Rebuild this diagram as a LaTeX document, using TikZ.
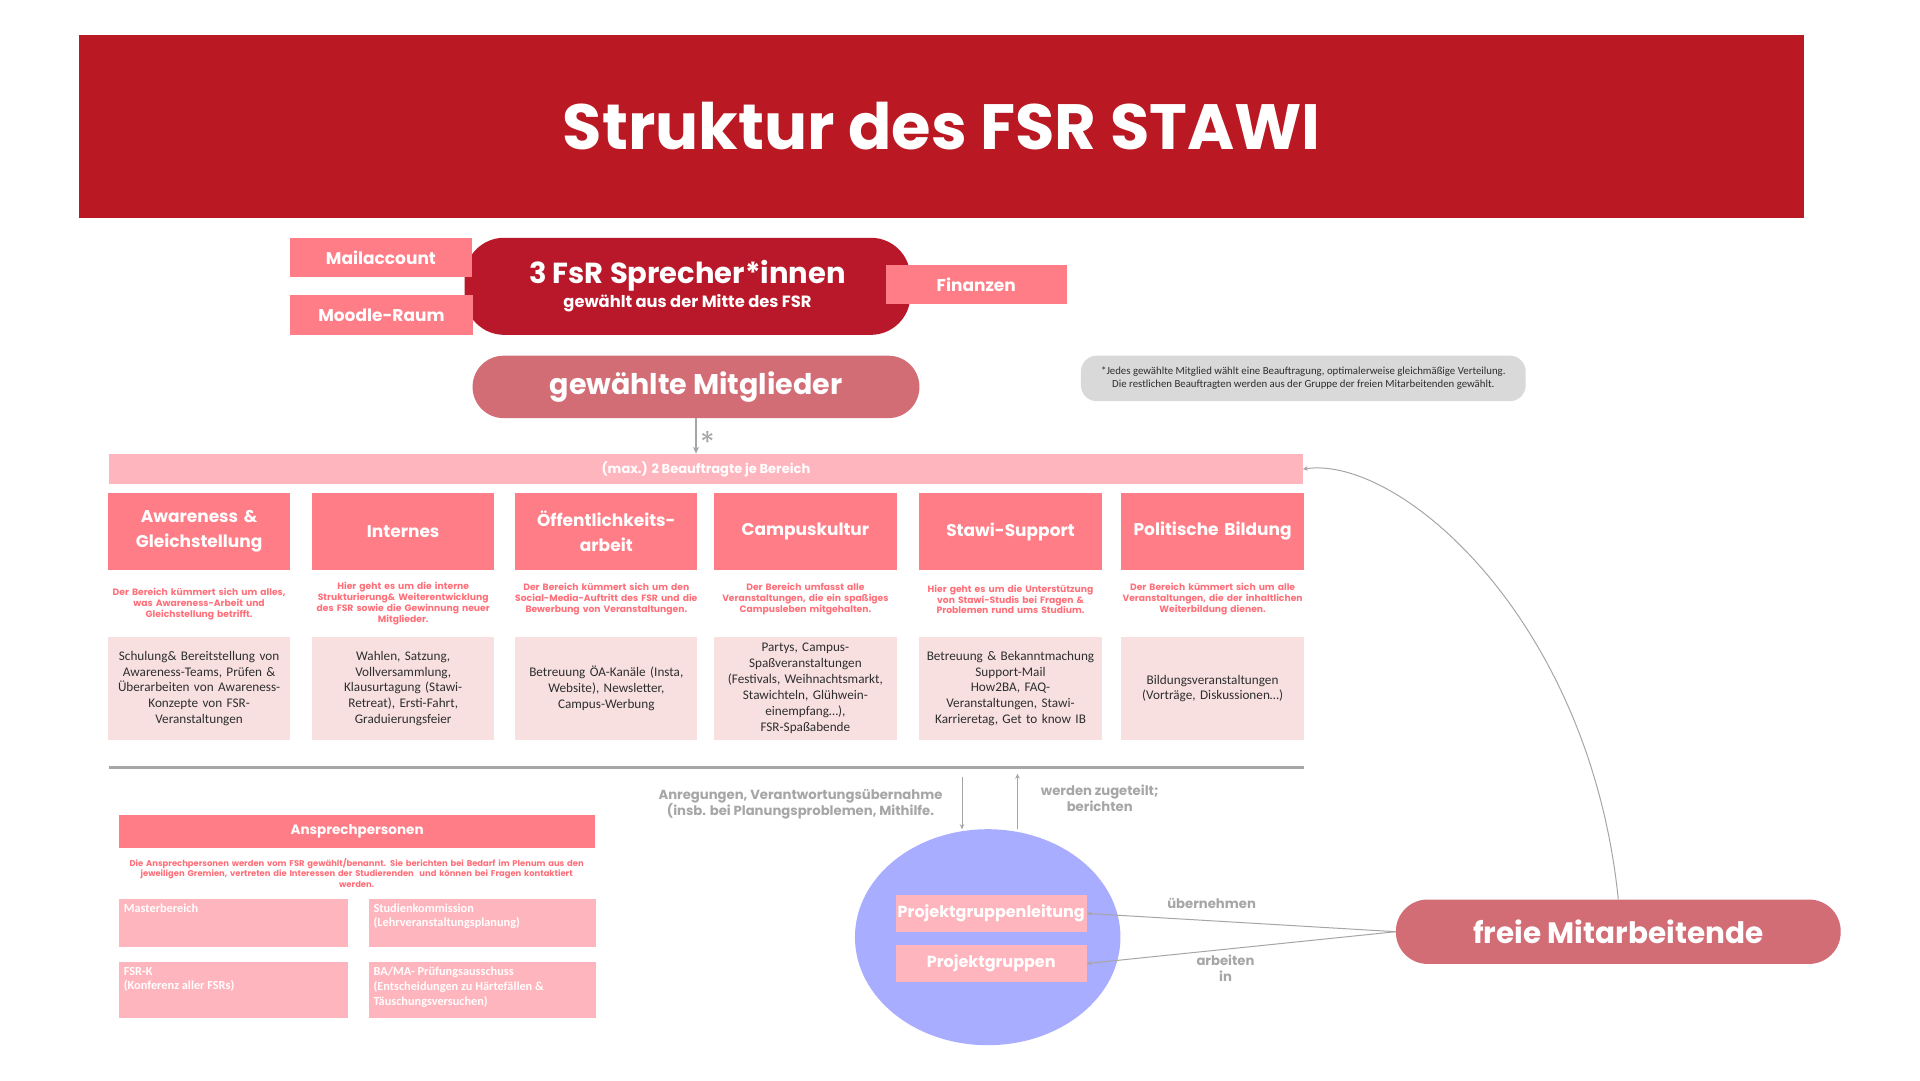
\documentclass[tikz,border=0pt]{standalone}
\usepackage{fontspec}
\setmainfont{Carlito}
\newfontfamily\hf{Poppins}
\usetikzlibrary{shapes.geometric,arrows.meta,calc}
\definecolor{titlered}{HTML}{BA1823}
\definecolor{darkred}{HTML}{B9182A}
\definecolor{salmon}{HTML}{FF7D86}
\definecolor{lightpink}{HTML}{FFB5BD}
\definecolor{rose}{HTML}{D36D75}
\definecolor{contentbg}{HTML}{F8E0E1}
\definecolor{graytxt}{HTML}{A6A6A6}
\definecolor{notegray}{HTML}{D9D9D9}
\definecolor{periwinkle}{HTML}{A9ADFF}
\definecolor{desctxt}{HTML}{FF6F79}
\definecolor{bodytxt}{HTML}{2E2E2E}
\tikzset{
  base/.style={inner sep=0pt, outer sep=0pt, align=center},
  titleband/.style={base, fill=titlered, text=white, font=\hf\bfseries\fontsize{64}{68}\selectfont},
  sidebox/.style={base, fill=salmon, text=white, minimum width=181.3, minimum height=39.6, font=\hf\bfseries\fontsize{17}{20}\selectfont},
  pill/.style={base, fill=rose, text=white, rounded corners=31, font=\hf\bfseries\fontsize{28.5}{32}\selectfont},
  cathead/.style={base, fill=salmon, text=white, minimum width=182.3, minimum height=76.3, text width=178, font=\hf\bfseries\fontsize{17}{25}\selectfont},
  catdesc/.style={base, text=desctxt, text width=190, font=\hf\bfseries\fontsize{9.2}{10.9}\selectfont},
  content/.style={base, fill=contentbg, text=bodytxt, minimum width=182.3, minimum height=103, text width=178, font=\fontsize{13.2}{15.9}\selectfont},
  graylabel/.style={base, text=graytxt, font=\hf\bfseries\fontsize{13.2}{16}\selectfont},
  smallbox/.style={base, fill=lightpink, minimum width=228.9},
  smalltext/.style={base, align=left, text=white, font=\bfseries\fontsize{12.3}{14.8}\selectfont},
  pgbox/.style={base, fill=lightpink, text=white, minimum width=191.2, minimum height=36.7, font=\hf\bfseries\fontsize{16}{18}\selectfont},
  conn/.style={draw=graytxt, line width=1.5pt, -{Stealth[length=7pt,width=6pt]}},
  thinconn/.style={draw=graytxt, line width=1pt, -{Stealth[length=5pt,width=4.5pt]}},
}
\begin{document}
\begin{tikzpicture}[x=1pt,y=1pt]
\useasboundingbox (0,0) rectangle (1920,-1080);
\fill[white] (0,0) rectangle (1920,-1080);

% title
\node[titleband, minimum width=1725, minimum height=183.3] (title) at (941.7,-126.3) {Struktur des FSR STAWI};

% Sprecher
\node[base, fill=darkred, text=white, rounded corners=39.6, minimum width=445.8, minimum height=97.1,
      font=\hf\bfseries\fontsize{16.3}{16}\selectfont] (spr) at (687.5,-286.3)
      {{\fontsize{29}{32}\selectfont 3 FsR Sprecher*innen}\\[2pt]gewählt aus der Mitte des FSR};
\node[sidebox] (mail) at (380.9,-257.6) {Mailaccount};
\node[sidebox, minimum width=182.3] (moodle) at (381.4,-315.0) {Moodle-Raum};
\node[sidebox] (fin) at (976.3,-284.3) {Finanzen};

% gewählte Mitglieder
\node[pill, minimum width=446.8, minimum height=62.4] (mitg) at (696.0,-386.9) {gewählte Mitglieder};

% note
\node[base, fill=notegray, rounded corners=16, minimum width=444.8, minimum height=45.6, text=bodytxt,
      font=\fontsize{10.8}{13}\selectfont] (note) at (1303.3,-378.4)
      {*Jedes gewählte Mitglied wählt eine Beauftragung, optimalerweise gleichmäßige Verteilung.\\Die restlichen Beauftragten werden aus der Gruppe der freien Mitarbeitenden gewählt.};

% band
\node[base, fill=lightpink, text=white, minimum width=1193.8, minimum height=30.7,
      font=\hf\bfseries\fontsize{13}{14}\selectfont] (band) at (705.9,-469.1) {(max.) 2 Beauftragte je Bereich};
\draw[conn] (mitg.south) -- (mitg.south |- band.north);
\node[base, anchor=base west, text=graytxt, font=\hf\fontsize{30}{30}\selectfont] (star) at (700,-453) {*};

% categories
\node[cathead] (h1) at (199.1,-531.5) {Awareness \&\\Gleichstellung};
\node[cathead] (h2) at (403.2,-531.5) {Internes};
\node[cathead] (h3) at (606.3,-531.5) {Öffentlichkeits-\\arbeit};
\node[cathead] (h4) at (805.4,-531.5) {Campuskultur};
\node[cathead] (h5) at (1010.5,-531.5) {Stawi-Support};
\node[cathead] (h6) at (1212.6,-531.5) {Politische Bildung};

\node[catdesc] (d1) at (199.1,-604.3) {Der Bereich kümmert sich um alles,\\was Awareness-Arbeit und\\Gleichstellung betrifft.};
\node[catdesc] (d2) at (403.2,-603.3) {Hier geht es um die interne\\Strukturierung\& Weiterentwicklung\\des FSR sowie die Gewinnung neuer\\Mitglieder.};
\node[catdesc] (d3) at (606.3,-599.4) {Der Bereich kümmert sich um den\\Social-Media-Auftritt des FSR und die\\Bewerbung von Veranstaltungen.};
\node[catdesc] (d4) at (805.4,-599.4) {Der Bereich umfasst alle\\Veranstaltungen, die ein spaßiges\\Campusleben mitgehalten.};
\node[catdesc] (d5) at (1010.5,-599.4) {Hier geht es um die Unterstützung\\von Stawi-Studis bei Fragen \&\\Problemen rund ums Studium.};
\node[catdesc] (d6) at (1212.6,-599.4) {Der Bereich kümmert sich um alle\\Veranstaltungen, die der inhaltlichen\\Weiterbildung dienen.};

\node[content] (c1) at (199.1,-688.5) {Schulung\& Bereitstellung von\\Awareness-Teams, Prüfen \&\\Überarbeiten von Awareness-\\Konzepte von FSR-\\Veranstaltungen};
\node[content] (c2) at (403.2,-688.5) {Wahlen, Satzung,\\Vollversammlung,\\Klausurtagung (Stawi-\\Retreat), Ersti-Fahrt,\\Graduierungsfeier};
\node[content] (c3) at (606.3,-688.5) {Betreuung ÖA-Kanäle (Insta,\\Website), Newsletter,\\Campus-Werbung};
\node[content] (c4) at (805.4,-688.5) {Partys, Campus-\\Spaßveranstaltungen\\(Festivals, Weihnachtsmarkt,\\Stawichteln, Glühwein-\\einempfang…),\\FSR-Spaßabende};
\node[content] (c5) at (1010.5,-688.5) {Betreuung \& Bekanntmachung\\Support-Mail\\How2BA, FAQ-\\Veranstaltungen, Stawi-\\Karrieretag, Get to know IB};
\node[content] (c6) at (1212.6,-688.5) {Bildungsveranstaltungen\\(Vorträge, Diskussionen…)};

% separator
\draw[graytxt, line width=3.2pt] (109,-767.8) -- (1303.8,-767.8);

% Ansprechpersonen
\node[base, fill=salmon, text=white, minimum width=476.5, minimum height=32.7,
      font=\hf\bfseries\fontsize{13.5}{16}\selectfont] (ansp) at (357.1,-831.7) {Ansprechpersonen};
\node[base, text=desctxt, text width=476, font=\hf\bfseries\fontsize{8.4}{10.4}\selectfont] (anspd) at (356.7,-872.8)
  {Die Ansprechpersonen werden vom FSR gewählt/benannt. Sie berichten bei Bedarf im Plenum aus den\\jeweiligen Gremien, vertreten die Interessen der Studierenden\ \ und können bei Fragen kontaktiert\\werden.};
\node[smallbox, minimum height=48.5] (m1) at (233.3,-922.8) {};
\node[smallbox, minimum width=227.9, minimum height=48.5] (m2) at (482.5,-922.8) {};
\node[smallbox, minimum height=56.5] (m3) at (233.3,-990.2) {};
\node[smallbox, minimum width=227.9, minimum height=56.5] (m4) at (482.5,-990.2) {};
\node[smalltext, anchor=north west] (t1) at ($(m1.north west)+(5,-5)$) {Masterbereich};
\node[smalltext, anchor=north west] (t2) at ($(m2.north west)+(5,-5)$) {Studienkommission\\(Lehrveranstaltungsplanung)};
\node[smalltext, anchor=north west] (t3) at ($(m3.north west)+(5,-5)$) {FSR-K\\(Konferenz aller FSRs)};
\node[smalltext, anchor=north west] (t4) at ($(m4.north west)+(5,-5)$) {BA/MA- Prüfungsausschuss\\(Entscheidungen zu Härtefällen \&\\Täuschungsversuchen)};

% Projektgruppen
\node[base, ellipse, fill=periwinkle, minimum width=265.5, minimum height=216] (ell) at (987.7,-937.2) {};
\node[pgbox, minimum height=37.6] (pgl) at (991.2,-913.4) {Projektgruppenleitung};
\node[pgbox] (pg) at (991.2,-963.5) {Projektgruppen};

\coordinate (a1) at (962,-776.7);
\coordinate (a2) at (1017.5,-773.7);
\draw[thinconn] (a1) -- (a1 |- ell.north);
\draw[thinconn] (a2 |- ell.north) -- (a2);
\node[graylabel] (lab1) at (800.5,-804.5) {Anregungen, Verantwortungsübernahme\\(insb. bei Planungsproblemen, Mithilfe.};
\node[graylabel] (lab2) at (1099.7,-798.5) {werden zugeteilt;\\berichten};

% freie Mitarbeitende
\node[pill, rounded corners=31.7, minimum width=444.8, minimum height=64.4, font=\hf\bfseries\fontsize{29.5}{32}\selectfont] (freie) at (1618.3,-931.7) {freie Mitarbeitende};
\draw[thinconn] (freie.west) -- (pgl.east);
\draw[thinconn] (freie.west) -- (pg.east);
\node[graylabel] (lab3) at (1211.6,-903.5) {übernehmen};
\node[graylabel] (lab4) at (1225.5,-967.9) {arbeiten\\in};
\draw[thinconn] (freie.north) .. controls (1590,-620) and (1400,-455) .. (band.east);
\end{tikzpicture}
\end{document}
